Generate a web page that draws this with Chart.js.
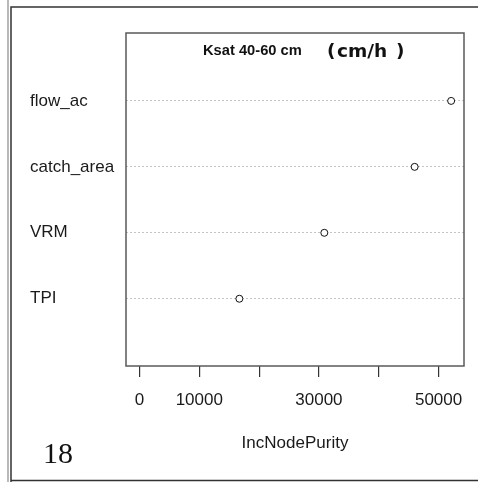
<!DOCTYPE html>
<html>
<head>
<meta charset="utf-8">
<script src="https://cdn.jsdelivr.net/npm/chart.js@4"></script>
<style>
html, body { margin: 0; padding: 0; background: #fff; }
</style>
</head>
<body>
<canvas id="dotChart" width="478" height="482"></canvas>
<script>
// variable importance, top row first
var variables = ["flow_ac", "catch_area", "VRM", "TPI"];
var purity = [52100, 46000, 30900, 16700];
var xTicks = [0, 10000, 20000, 30000, 40000, 50000];
var xTickLabels = ["0", "10000", "", "30000", "", "50000"];

var points = [];
for (var i = 0; i < variables.length; ++i) {
  points.push({x: purity[i], y: variables.length - i});
}

var framePlugin = {
  id: 'frame',
  beforeDraw: function(chart) {
    var ctx = chart.ctx;
    ctx.save();
    ctx.fillStyle = '#fff';
    ctx.fillRect(0, 0, chart.width, chart.height);
    ctx.restore();
  },
  afterDraw: function(chart) {
    var ctx = chart.ctx, a = chart.chartArea;
    ctx.save();
    // plot box
    ctx.strokeStyle = '#5a5a5a';
    ctx.lineWidth = 1.5;
    ctx.strokeRect(a.left, a.top, a.right - a.left, a.bottom - a.top);
    // outer page frame (double line on the left)
    ctx.strokeStyle = '#8a8a8a';
    ctx.lineWidth = 1.2;
    ctx.beginPath();
    ctx.moveTo(8, 0); ctx.lineTo(8, 482);
    ctx.stroke();
    ctx.strokeStyle = '#333';
    ctx.lineWidth = 1.5;
    ctx.beginPath();
    ctx.moveTo(11, 482); ctx.lineTo(11, 7); ctx.lineTo(478, 7);
    ctx.moveTo(11, 480.5); ctx.lineTo(478, 480.5);
    ctx.stroke();
    // title inside the box
    ctx.fillStyle = '#111';
    ctx.textBaseline = 'alphabetic';
    ctx.font = 'bold 14.7px "Liberation Sans"';
    ctx.fillText('Ksat 40-60 cm', 203, 55);
    ctx.font = 'bold 18.5px "DejaVu Sans"';
    ctx.fillText('(', 327, 57);
    ctx.fillText('cm/h', 337, 57);
    ctx.fillText(')', 396, 57);
    // page number
    ctx.font = '30px "Liberation Serif"';
    ctx.fillText('18', 43, 463);
    ctx.restore();
  }
};

var ctx = document.getElementById("dotChart");
var dotChart = new Chart(ctx, {
  type: 'scatter',
  data: {
    datasets: [{
      data: points,
      pointStyle: 'circle',
      pointRadius: 3.5,
      pointHoverRadius: 3.5,
      pointBorderWidth: 1,
      pointBorderColor: '#111',
      pointBackgroundColor: '#fff'
    }]
  },
  options: {
    responsive: false,
    animation: false,
    events: [],
    layout: {padding: {left: 30, top: 33, right: 14, bottom: 0}},
    plugins: {legend: {display: false}, tooltip: {enabled: false}},
    scales: {
      x: {
        type: 'linear',
        min: -2250,
        max: 54250,
        afterBuildTicks: function(scale) {
          scale.ticks = xTicks.map(function(v) { return {value: v}; });
        },
        afterFit: function(scale) { scale.height = 116; },
        ticks: {
          autoSkip: false,
          maxRotation: 0,
          padding: 13,
          color: '#1a1a1a',
          font: {family: '"Liberation Sans"', size: 17},
          callback: function(value, index) { return xTickLabels[index]; }
        },
        grid: {drawOnChartArea: false, drawTicks: true, tickLength: 11, color: '#333', lineWidth: 1.2},
        border: {display: false},
        title: {
          display: true,
          text: 'IncNodePurity',
          color: '#1a1a1a',
          font: {family: '"Liberation Sans"', size: 17},
          padding: {top: 0, bottom: 28}
        }
      },
      y: {
        type: 'linear',
        min: -0.02,
        max: 5.03,
        afterBuildTicks: function(scale) {
          var t = [];
          for (var k = 1; k <= variables.length; ++k) t.push({value: k});
          scale.ticks = t;
        },
        afterFit: function(scale) { scale.width = 96; },
        ticks: {
          crossAlign: 'far',
          padding: 0,
          color: '#1a1a1a',
          font: {family: '"Liberation Sans"', size: 17},
          callback: function(value) { return variables[variables.length - value]; }
        },
        grid: {drawTicks: false, color: '#c4c4c4', lineWidth: 1},
        border: {display: false, dash: [2, 2]}
      }
    }
  },
  plugins: [framePlugin]
});
</script>
</body>
</html>
